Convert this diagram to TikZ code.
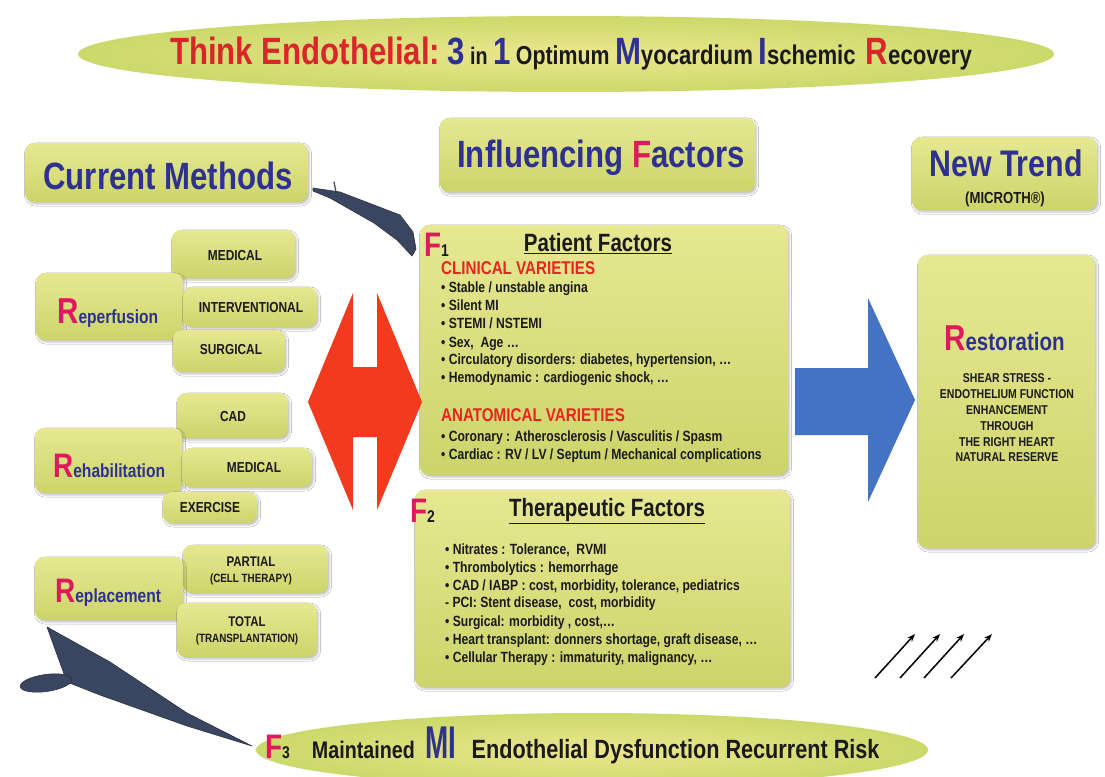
\documentclass[tikz,border=0pt]{standalone}
\usepackage{fontspec}
\setmainfont{Liberation Sans}[FakeStretch=0.82]
\usetikzlibrary{shadows.blur,arrows.meta}
\definecolor{ytop}{HTML}{E6E892}
\definecolor{ybot}{HTML}{CDD46A}
\definecolor{ellin}{HTML}{ECE68E}
\definecolor{ellout}{HTML}{CBD96A}
\definecolor{dblue}{HTML}{2E3192}
\definecolor{tred}{HTML}{D8262A}
\definecolor{rmag}{HTML}{E0195E}
\definecolor{cvred}{HTML}{E8261F}
\definecolor{txt}{HTML}{1A1A1A}
\definecolor{harrow}{HTML}{F23A1E}
\definecolor{barrow}{HTML}{4472C4}
\definecolor{pointer}{HTML}{3A4560}
\newcommand\fs[1]{\fontsize{#1}{1.2\dimexpr#1pt\relax}\selectfont}
\begin{document}
\begin{tikzpicture}[x=1pt,y=-1pt,font=\bfseries,text=txt,
  ybox/.style={rounded corners=9pt,top color=ytop,bottom color=ybot,draw=none,inner sep=0pt,
    blur shadow={shadow xshift=1.5pt,shadow yshift=-2pt,shadow opacity=25}},
  lab/.style={inner sep=0pt,font=\bfseries\fs{14.5}},
  bul/.style={inner sep=0pt,anchor=base west,font=\bfseries\fs{14.8}},
  bigR/.style={inner sep=0pt,anchor=base west},
  ell/.style={inner color=ellin,outer color=ellout},
  pointerfill/.style={fill=pointer,draw=pointer!70!black,line width=0.6pt,line join=round},
  smallarrow/.style={-{Stealth[length=8pt,width=6pt]},line width=1.5pt,black},
]
\useasboundingbox (0,0) rectangle (1105,776);
\fill[white] (0,0) rectangle (1105,776);

% title ellipse
\shade[ell] (566,54) ellipse [x radius=488,y radius=38];
\node[inner sep=0pt] (title) at (571,54) {%
  {\color{tred}\fs{38}Think Endothelial:}\fs{24} {\color{dblue}\fs{38}3} {\fs{24}in} {\color{dblue}\fs{38}1} {\fs{26}Optimum} {\color{dblue}\fs{38}M}{\fs{27}yocardium} {\color{dblue}\fs{38}I}{\fs{27}schemic}\hspace{10pt}{\color{tred}\fs{38}R}{\fs{27}ecovery}};

% headers
\node[ybox,minimum width=283,minimum height=59] (cm) at (166.5,172.5) {};
\node[inner sep=0pt,text=dblue,font=\bfseries\fs{38}] (cmt) at (168,176) {Current Methods};
\node[ybox,minimum width=315,minimum height=74] (inf) at (597.5,155) {};
\node[inner sep=0pt,text=dblue,font=\bfseries\fs{38}] (inft) at (601,158) {Influencing {\color{rmag}F}actors};
\node[ybox,minimum width=185,minimum height=73] (nt) at (1004.5,173.5) {};
\node[inner sep=0pt,text=dblue,font=\bfseries\fs{37}] (ntt) at (1006,163) {New Trend};
\node[inner sep=0pt,font=\bfseries\fs{16}] (ntm) at (1005,199) {(MICROTH®)};

% left column boxes
\node[ybox,minimum width=123,minimum height=48] (med1) at (233.5,254) {};
\node[ybox,minimum width=147,minimum height=67] (rep) at (109.5,306.5) {};
\node[ybox,minimum width=134,minimum height=40] (intv) at (250,307) {};
\node[ybox,minimum width=112,minimum height=42] (surg) at (229,351) {};
\node[ybox,minimum width=111,minimum height=45] (cad) at (232.5,415.5) {};
\node[ybox,minimum width=147,minimum height=65] (reh) at (108.5,460.5) {};
\node[ybox,minimum width=130,minimum height=39] (med2) at (247,467.5) {};
\node[ybox,minimum width=94,minimum height=31] (exer) at (210,507.5) {};
\node[ybox,minimum width=145,minimum height=48] (part) at (255.5,569) {};
\node[ybox,minimum width=148,minimum height=63] (repl) at (109,588.5) {};
\node[ybox,minimum width=140,minimum height=54] (tot) at (247,630) {};

\node[lab] (med1t) at (235,256) {MEDICAL};
\node[lab] (intvt) at (251,308) {INTERVENTIONAL};
\node[lab] (surgt) at (231,350) {SURGICAL};
\node[lab] (cadt) at (233,417) {CAD};
\node[lab] (med2t) at (254,468) {MEDICAL};
\node[lab] (exert) at (210,508) {EXERCISE};
\node[lab,align=center,font=\bfseries\fs{14}] (partt) at (251,571) {PARTIAL\\[-1pt]{\fs{12}(CELL THERAPY)}};
\node[lab,align=center,font=\bfseries\fs{14}] (tott) at (247,631) {TOTAL\\[-1pt]{\fs{12}(TRANSPLANTATION)}};

\node[bigR] (rept) at (57,323) {{\color{rmag}\fs{36}R}{\color{dblue}\fs{19}eperfusion}};
\node[bigR] (reht) at (53,477) {{\color{rmag}\fs{34}R}{\color{dblue}\fs{19}ehabilitation}};
\node[bigR] (replt) at (55,602) {{\color{rmag}\fs{34}R}{\color{dblue}\fs{19}eplacement}};

% central boxes
\node[ybox,minimum width=368,minimum height=250] (pf) at (604,350) {};
\node[ybox,minimum width=375,minimum height=197] (tf) at (602.5,588.5) {};
\node[bigR] (f1) at (424,256) {{\color{rmag}\fs{34}F}{\fs{17}1}};
\node[inner sep=0pt,font=\bfseries\fs{25}] (pft) at (598,244) {\underline{Patient Factors}};
\node[inner sep=0pt,anchor=west,text=cvred,font=\bfseries\fs{18.5}] (cv) at (441,268) {CLINICAL VARIETIES};
\node[bul] (p1) at (441,292.5) {• Stable / unstable angina};
\node[bul] (p2) at (441,310.5) {• Silent MI};
\node[bul] (p3) at (441,328.5) {• STEMI / NSTEMI};
\node[bul] (p4) at (441,347) {• Sex,\ \ Age …};
\node[bul] (p5) at (441,364.5) {• Circulatory disorders: diabetes, hypertension, …};
\node[bul] (p6) at (441,382.5) {• Hemodynamic : cardiogenic shock, …};
\node[inner sep=0pt,anchor=west,text=cvred,font=\bfseries\fs{18.5}] (av) at (441,415) {ANATOMICAL VARIETIES};
\node[bul] (a1) at (441,441.5) {• Coronary : Atherosclerosis / Vasculitis / Spasm};
\node[bul] (a2) at (441,459.5) {• Cardiac : RV / LV / Septum / Mechanical complications};

\node[bigR] (f2) at (410,522) {{\color{rmag}\fs{34}F}{\fs{17}2}};
\node[inner sep=0pt,font=\bfseries\fs{25}] (tft) at (607,511) {\underline{Therapeutic Factors}};
\node[bul] (t1) at (445,554.5) {• Nitrates : Tolerance,\ \ RVMI};
\node[bul] (t2) at (445,572.5) {• Thrombolytics : hemorrhage};
\node[bul] (t3) at (445,590.5) {• CAD / IABP : cost, morbidity, tolerance, pediatrics};
\node[bul] (t4) at (445,607.5) {- PCI: Stent disease,\ \ cost, morbidity};
\node[bul] (t5) at (445,626.5) {• Surgical: morbidity , cost,…};
\node[bul] (t6) at (445,644.5) {• Heart transplant: donners shortage, graft disease, …};
\node[bul] (t7) at (445,662.5) {• Cellular Therapy : immaturity, malignancy, …};

% right box
\node[ybox,minimum width=177,minimum height=293] (rest) at (1006.5,401.5) {};
\node[bigR] (restt) at (944,350) {{\color{rmag}\fs{36}R}{\color{dblue}\fs{25}estoration}};
\node[inner sep=0pt,align=center,font=\bfseries\fontsize{12.8}{15.8}\selectfont] (restb) at (1007,418)
  {SHEAR STRESS -\\ENDOTHELIUM FUNCTION\\ENHANCEMENT\\THROUGH\\THE RIGHT HEART\\NATURAL RESERVE};

% red double arrow
\fill[harrow] (353,293) -- (353,367) -- (377,367) -- (377,293) -- (422,402) -- (377,510)
  -- (377,437) -- (353,437) -- (353,510) -- (308,402) -- cycle;

% blue arrow
\fill[barrow] (795,368) -- (868,368) -- (868,298) -- (915,400) -- (868,502) -- (868,435) -- (795,435) -- cycle;

% top pointer
\filldraw[pointerfill] (313,188) -- (340,192) -- (400,215) -- (413,232) -- (416,249) -- (412,256)
  -- (397,240) -- (374,223) -- (330,198) -- (313,191) -- cycle;
\draw[pointer,line width=1.2pt,line cap=round] (336,192) -- (334,182);

% bottom pointer
\filldraw[pointerfill] (47,627) -- (110,662) -- (187,713) -- (252,746) -- (187,726)
  -- (100,695) -- (67,682) -- cycle;
\filldraw[pointerfill,rotate around={8:(46,683)}] (46,683) ellipse [x radius=26,y radius=8.5];

% bottom ellipse
\shade[ell] (592,750) ellipse [x radius=336,y radius=37];
\node[bigR] (f3) at (265,758) {{\color{rmag}\fs{34}F}{\fs{17}3}\hspace{22pt}{\fs{24}Maintained}\hspace{11pt}{\color{dblue}\fs{34}\scalebox{1}[1.35]{MI}}\hspace{15pt}{\fs{26.4}Endothelial Dysfunction Recurrent Risk}};

% small arrows
\coordinate (s1) at (875,678); \coordinate (e1) at (915,634);
\coordinate (s2) at (900,678); \coordinate (e2) at (940,634);
\coordinate (s3) at (924,678); \coordinate (e3) at (964,634);
\coordinate (s4) at (951,678); \coordinate (e4) at (992,634);
\draw[smallarrow] (s1) -- (e1);
\draw[smallarrow] (s2) -- (e2);
\draw[smallarrow] (s3) -- (e3);
\draw[smallarrow] (s4) -- (e4);
\end{tikzpicture}
\end{document}
